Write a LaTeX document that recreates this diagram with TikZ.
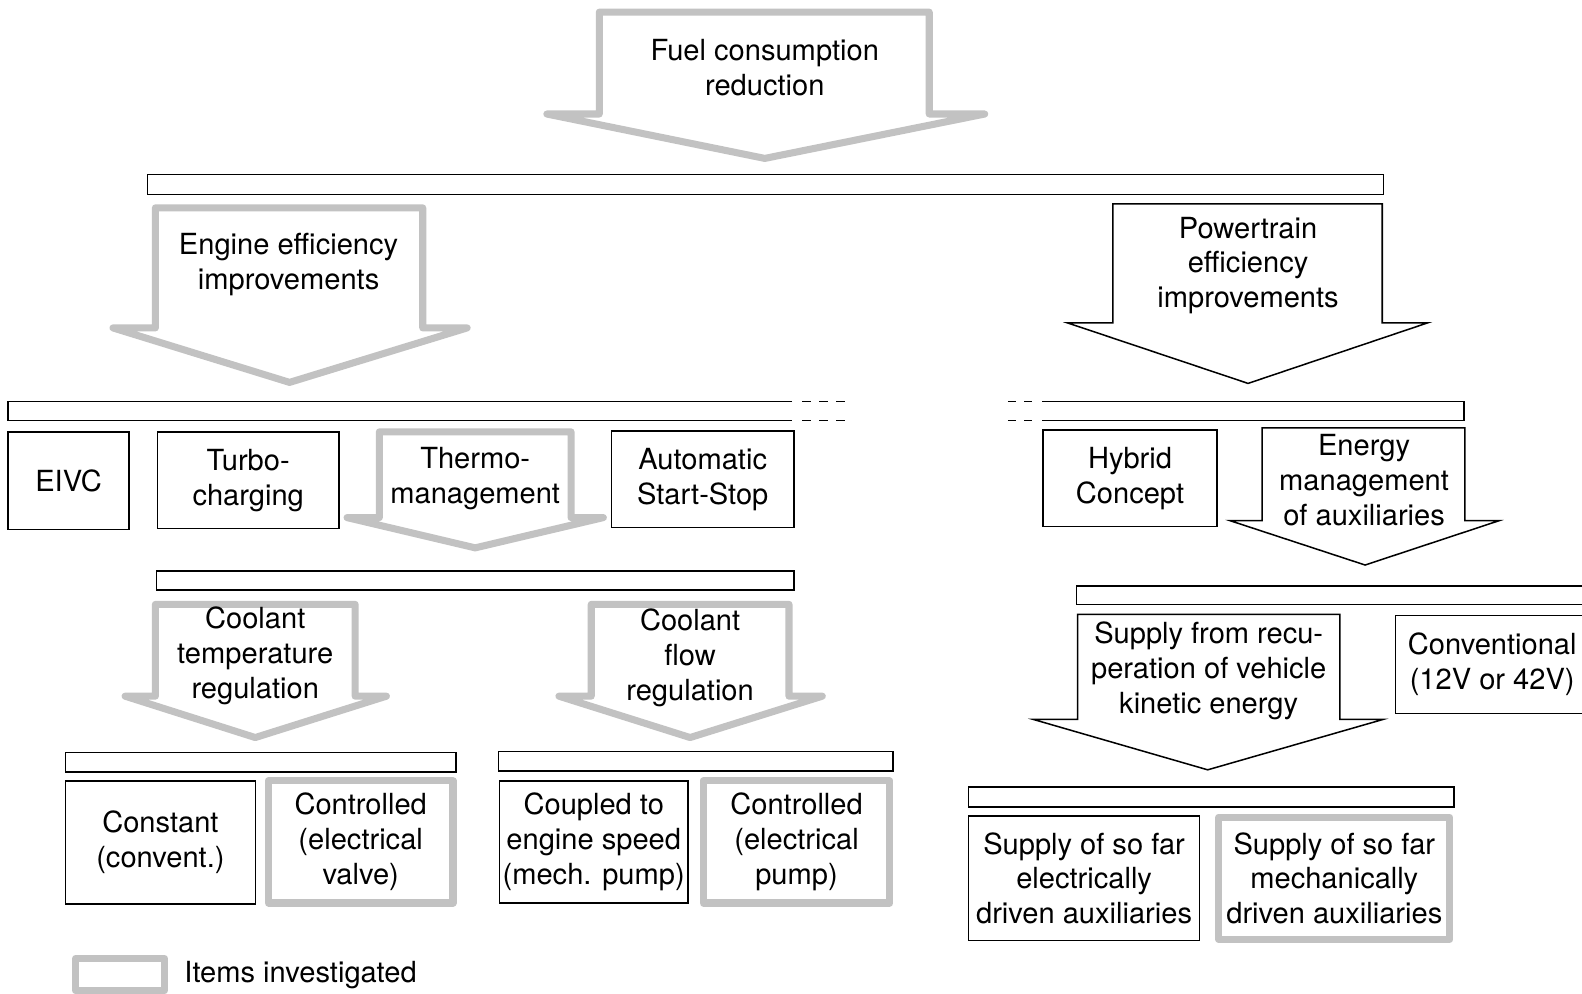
\documentclass[tikz,border=0pt]{standalone}
\usepackage{fontspec}
\setmainfont{TeX Gyre Heros}
\usetikzlibrary{positioning}

\tikzset{
	box/.style={draw=black,line width=0.3mm,align=center,inner sep=0pt},
	invest/.style={draw=gray!48,line width=1.4mm,line join=round,align=center,inner sep=0pt},
	bar/.style={draw=black,line width=0.3mm,inner sep=0pt},
	lbl/.style={align=center,inner sep=0pt},
	wh/.style 2 args={minimum width=#1*0.2mm,minimum height=#2*0.2mm},
}

\begin{document}
\begin{tikzpicture}[x=0.2mm,y=-0.2mm,font=\fontsize{16.4}{19.6}\selectfont]
	\useasboundingbox (0,0) rectangle (1568,985);

	% top level
	\draw[invest] (594,12) -- (921,12) -- (921,113) -- (976,113) -- (758,157) -- (542,113) -- (594,113) -- cycle;
	\node[lbl] (fuel) at (758,67) {Fuel consumption\\reduction};
	\node[bar,wh={1225}{20}] (fuelbar) at (758.5,183) {};

	% engine / powertrain
	\draw[invest] (154,206) -- (419,206) -- (419,325) -- (463,325) -- (287,379) -- (112,325) -- (154,325) -- cycle;
	\node[lbl] (engine) at (286,262) {Engine efficiency\\improvements};
	\draw[box] (1103,202) -- (1370,202) -- (1370,320) -- (1415,320) -- (1237,380) -- (1058,320) -- (1103,320) -- cycle;
	\node[lbl] (power) at (1237,263) {Powertrain\\efficiency\\improvements};

	\draw[bar] (785,398) -- (8,398) -- (8,417) -- (785,417);
	\draw[bar,dash pattern=on 1.8mm off 1.6mm] (795,398) -- (838,398) (795,417) -- (838,417);
	\draw[bar,dash pattern=on 1.6mm off 1.6mm] (999,398) -- (1023,398) (999,417) -- (1023,417);
	\draw[bar] (1033,398) -- (1451,398) -- (1451,417) -- (1033,417);

	% engine measures
	\node[box,wh={120}{97}] (eivc) at (68,476.5) {EIVC};
	\node[box,wh={180}{96}] (turbo) at (246,476) {Turbo-\\charging};
	\draw[invest] (376,428) -- (566,428) -- (566,513) -- (598,513) -- (471,543) -- (344,513) -- (376,513) -- cycle;
	\node[lbl] (thermo) at (471,474) {Thermo-\\management};
	\node[box,wh={181}{96}] (startstop) at (696.5,475) {Automatic\\Start-Stop};

	% powertrain measures
	\node[box,wh={172}{96}] (hybrid) at (1120,474) {Hybrid\\Concept};
	\draw[box] (1251,424) -- (1452,424) -- (1452,516) -- (1486,516) -- (1353,560) -- (1219,516) -- (1251,516) -- cycle;
	\node[lbl] (energy) at (1352,476) {Energy\\management\\of auxiliaries};

	% thermomanagement
	\node[bar,wh={632}{19}] (thermobar) at (471,575.5) {};
	\draw[invest] (154,599) -- (352,599) -- (352,690) -- (383,690) -- (253,731) -- (124,690) -- (154,690) -- cycle;
	\node[lbl] (temp) at (253,650) {Coolant\\temperature\\regulation};
	\draw[invest] (586,599) -- (782,599) -- (782,690) -- (815,690) -- (684,731) -- (554,690) -- (586,690) -- cycle;
	\node[lbl] (flow) at (684,652) {Coolant\\flow\\regulation};

	\node[bar,wh={387}{19}] (tempbar) at (258.5,755.5) {};
	\node[bar,wh={391}{19}] (flowbar) at (689.5,754.5) {};
	\node[box,wh={188}{122}] (const) at (159,835) {Constant\\(convent.)};
	\node[invest,wh={183}{121}] (valve) at (357.5,834.5) {Controlled\\(electrical\\valve)};
	\node[box,wh={187}{121}] (coupled) at (588.5,834.5) {Coupled to\\engine speed\\(mech. pump)};
	\node[invest,wh={185}{121}] (pump) at (789.5,834.5) {Controlled\\(electrical\\pump)};

	% auxiliaries
	\draw[bar] (1580,581) -- (1067,581) -- (1067,599) -- (1580,599);
	\draw[box] (1068,609) -- (1328,609) -- (1328,713) -- (1371,713) -- (1197,763) -- (1024,713) -- (1068,713) -- cycle;
	\node[lbl] (recup) at (1198,665) {Supply from recu-\\peration of vehicle\\kinetic energy};
	\node[box,wh={192}{97}] (conv) at (1479,658.5) {Conventional\\(12V or 42V)};

	\node[bar,wh={481}{20}] (recupbar) at (1200.5,790) {};
	\node[box,wh={229}{123}] (elec) at (1074.5,870.5) {Supply of so far\\electrically\\driven auxiliaries};
	\node[invest,wh={229}{121}] (mech) at (1322.5,870.5) {Supply of so far\\mechanically\\driven auxiliaries};

	% legend
	\node[invest,wh={88}{32}] (legend) at (119,966) {};
	\node[lbl,right=3.2mm of legend] (legendtxt) {Items investigated};
\end{tikzpicture}
\end{document}
